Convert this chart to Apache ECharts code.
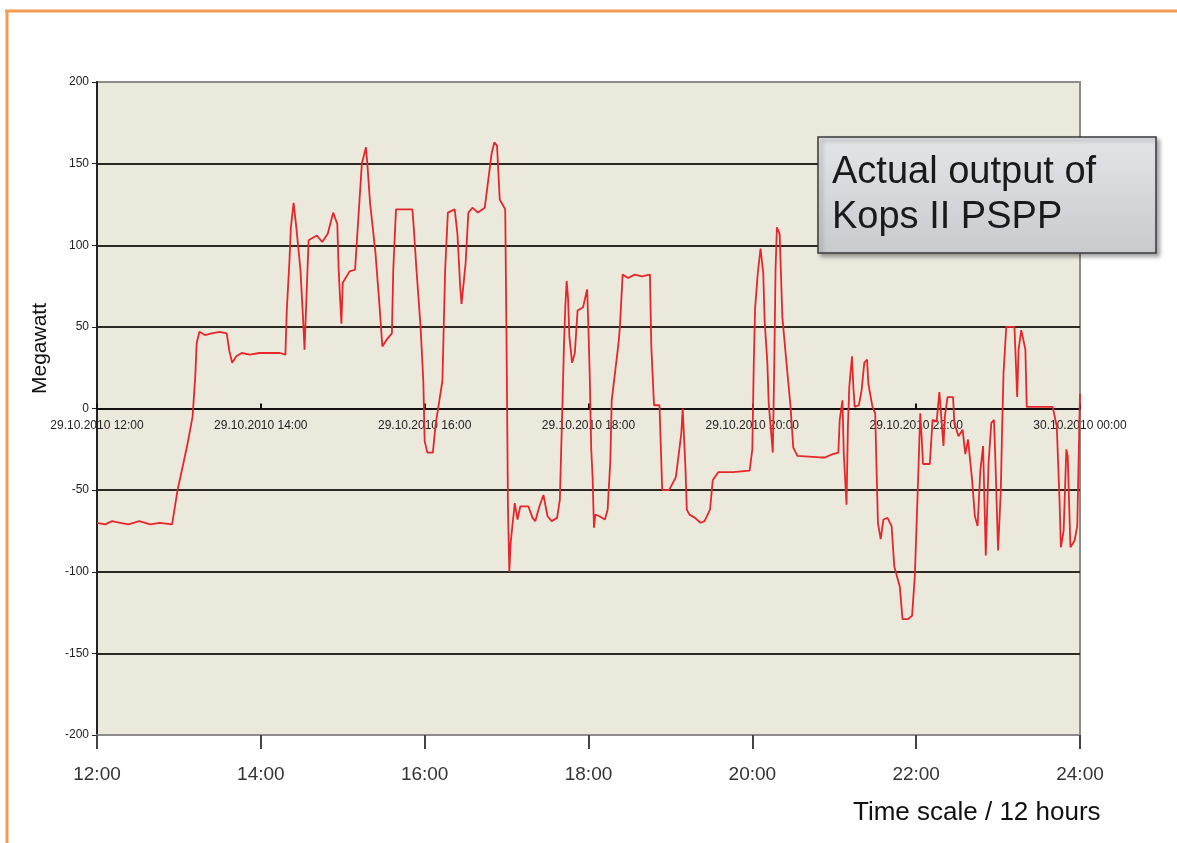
<!DOCTYPE html>
<html>
<head>
<meta charset="utf-8">
<script src="https://cdn.jsdelivr.net/npm/echarts@6/dist/echarts.min.js"></script>
<style>
  html, body { margin: 0; padding: 0; background: #fff; }
  #chart { width: 1177px; height: 843px; }
</style>
</head>
<body>
<div id="chart"></div>
<script>
// minutes after 12:00 on 29.10.2010
const minutes = [0, 6, 11, 17, 23, 31, 39, 46, 55, 59, 66, 70, 72, 73, 75, 79, 84, 90, 95, 97,
  99, 102, 106, 112, 119, 127, 134, 138, 139, 141, 142, 144, 146, 149, 151, 152, 154, 155, 161, 165,
  169, 173, 176, 177, 179, 180, 185, 189, 191, 194, 197, 198, 200, 204, 207, 209, 212, 216, 217, 219,
  224, 231, 232, 234, 237, 239, 240, 242, 246, 248, 253, 255, 257, 262, 264, 266, 267, 270, 272, 275,
  279, 284, 286, 289, 291, 293, 295, 299, 300, 301, 302, 303, 306, 308, 310, 316, 319, 321, 324, 327,
  330, 333, 337, 339, 341, 342, 343, 344, 345, 346, 348, 350, 352, 356, 359, 360, 361, 362, 363, 364,
  365, 368, 372, 374, 376, 377, 382, 383, 385, 389, 394, 399, 405, 406, 408, 412, 414, 419, 424, 428,
  429, 431, 432, 434, 438, 442, 445, 449, 451, 455, 466, 478, 480, 481, 482, 484, 486, 488, 489, 491,
  492, 494, 495, 496, 497, 498, 500, 502, 505, 508, 510, 513, 530, 533, 539, 543, 544, 546, 547, 549,
  550, 551, 553, 554, 555, 558, 560, 562, 564, 565, 568, 570, 571, 572, 574, 576, 579, 582, 584, 588,
  590, 594, 597, 599, 601, 603, 604, 605, 610, 612, 615, 617, 620, 621, 623, 627, 628, 631, 634, 636,
  638, 641, 643, 645, 647, 649, 650, 651, 653, 655, 657, 658, 660, 662, 663, 664, 666, 667, 672, 674,
  675, 677, 680, 681, 691, 700, 703, 705, 706, 708, 710, 711, 713, 716, 718, 720];

const megawatt = [-70, -71, -69, -70, -71, -69, -71, -70, -71, -50, -23, -5, 20, 40, 47, 45, 46, 47, 46, 35,
  28, 32, 34, 33, 34, 34, 34, 33, 60, 91, 111, 126, 111, 85, 54, 36, 81, 103, 106, 102,
  107, 120, 113, 85, 52, 77, 84, 85, 111, 150, 160, 150, 126, 95, 62, 38, 42, 46, 85, 122,
  122, 122, 111, 85, 50, 17, -20, -27, -27, -10, 17, 85, 120, 122, 107, 75, 64, 89, 120, 123,
  120, 123, 136, 156, 163, 161, 128, 122, 38, -60, -100, -82, -58, -68, -60, -60, -67, -69, -60, -53,
  -66, -69, -67, -56, 5, 38, 62, 78, 68, 44, 28, 34, 60, 62, 73, 48, 17, -25, -42, -73,
  -65, -66, -68, -62, -32, 5, 40, 50, 82, 80, 82, 81, 82, 38, 2, 2, -50, -50, -42, -15,
  0, -36, -62, -65, -67, -70, -69, -62, -44, -39, -39, -38, -25, 25, 61, 83, 98, 83, 54, 28,
  3, -17, -27, 23, 85, 111, 107, 56, 28, 1, -24, -29, -30, -30, -28, -27, -7, 5, -28, -59,
  -11, 13, 32, 13, 1, 2, 11, 28, 30, 15, 1, -3, -38, -70, -80, -68, -67, -72, -97, -109,
  -129, -129, -127, -103, -54, -3, -17, -34, -34, -7, -8, 10, -23, -5, 7, 7, -9, -17, -13, -28,
  -19, -44, -66, -72, -38, -23, -56, -90, -34, -9, -7, -31, -87, -50, -11, 22, 50, 51, 50, 7,
  36, 48, 36, 1, 1, 1, -11, -56, -85, -75, -25, -29, -85, -81, -72, 9];

const hourTicks = ['12:00', '14:00', '16:00', '18:00', '20:00', '22:00', '24:00'];
const dateTicks = ['29.10.2010 12:00', '29.10.2010 14:00', '29.10.2010 16:00', '29.10.2010 18:00',
  '29.10.2010 20:00', '29.10.2010 22:00', '30.10.2010 00:00'];

const font = '"Liberation Sans", Arial, sans-serif';
const gridTop = 82;
const gridHeight = 653;
const chart = echarts.init(document.getElementById('chart'), null, { renderer: 'canvas' });

const option = {
  animation: false,
  backgroundColor: '#ffffff',
  grid: {
    left: 97, right: 97, top: gridTop, height: gridHeight,
    show: true,
    backgroundColor: '#ebe8dc',
    borderColor: '#8c8c8c',
    borderWidth: 2,
    outerBoundsMode: 'none'
  },
  xAxis: [{
    type: 'value',
    min: 0, max: 720, interval: 120,
    position: 'bottom',
    axisLine: { show: true, onZero: false, lineStyle: { color: '#8c8c8c', width: 2 } },
    axisTick: { show: true, length: 14, lineStyle: { color: '#444', width: 2 } },
    axisLabel: {
      margin: 30, fontSize: 19, color: '#333', fontFamily: font,
      formatter: (v) => hourTicks[Math.round(v / 120)]
    },
    splitLine: { show: false }
  }, {
    // time axis drawn through 0 MW (shifted up from the bottom by half the plot height)
    type: 'value',
    min: 0, max: 720, interval: 120,
    position: 'bottom',
    offset: -gridHeight / 2,
    axisLine: { show: true, onZero: false, lineStyle: { color: '#111', width: 2 } },
    axisTick: { show: true, inside: true, length: 5, lineStyle: { color: '#111', width: 2 } },
    axisLabel: {
      margin: 11, fontSize: 12, color: '#222', fontFamily: font,
      formatter: (v) => dateTicks[Math.round(v / 120)]
    },
    splitLine: { show: false }
  }],
  yAxis: {
    type: 'value',
    min: -200, max: 200, interval: 50,
    name: 'Megawatt',
    nameLocation: 'middle',
    nameGap: 46,
    nameRotate: 90,
    nameTextStyle: { fontSize: 21, color: '#111', fontFamily: font, padding: [0, 0, 0, 120] },
    axisLine: { show: true, onZero: false, lineStyle: { color: '#222', width: 2 } },
    axisTick: { show: true, length: 5, lineStyle: { color: '#222', width: 1 } },
    axisLabel: { margin: 8, fontSize: 12, color: '#222', fontFamily: font },
    splitLine: {
      show: true, showMinLine: false, showMaxLine: false,
      lineStyle: { color: '#2a2a22', width: 2 }
    }
  },
  series: [{
    type: 'line',
    xAxisIndex: 0,
    data: minutes.map((m, i) => [m, megawatt[i]]),
    showSymbol: false,
    lineStyle: { color: '#e8262a', width: 1.8 },
    z: 5
  }],
  graphic: [
    // orange slide frame
    { type: 'line', shape: { x1: 7, y1: 10, x2: 7, y2: 843 }, style: { stroke: '#f39b50', lineWidth: 3 }, z: 100 },
    { type: 'line', shape: { x1: 5, y1: 11, x2: 1177, y2: 11 }, style: { stroke: '#f39b50', lineWidth: 3 }, z: 100 },
    // annotation box
    {
      type: 'rect',
      shape: { x: 818, y: 137, width: 338, height: 116 },
      style: {
        fill: new echarts.graphic.LinearGradient(0, 0, 0, 1, [
          { offset: 0, color: '#e4e5e9' },
          { offset: 1, color: '#c8cace' }
        ]),
        stroke: '#3a3a3a', lineWidth: 1.5,
        shadowBlur: 4, shadowOffsetX: 3, shadowOffsetY: 3, shadowColor: 'rgba(0,0,0,0.35)'
      },
      z: 100
    },
    {
      type: 'text',
      style: {
        x: 832, y: 150,
        text: 'Actual output of\nKops II PSPP',
        font: '38px ' + font,
        lineHeight: 45,
        fill: '#1a1a1a'
      },
      z: 101
    },
    {
      type: 'text',
      style: {
        x: 853, y: 813,
        text: 'Time scale / 12 hours',
        font: '26px ' + font,
        verticalAlign: 'middle',
        fill: '#111'
      },
      z: 101
    }
  ]
};

chart.setOption(option);
</script>
</body>
</html>
